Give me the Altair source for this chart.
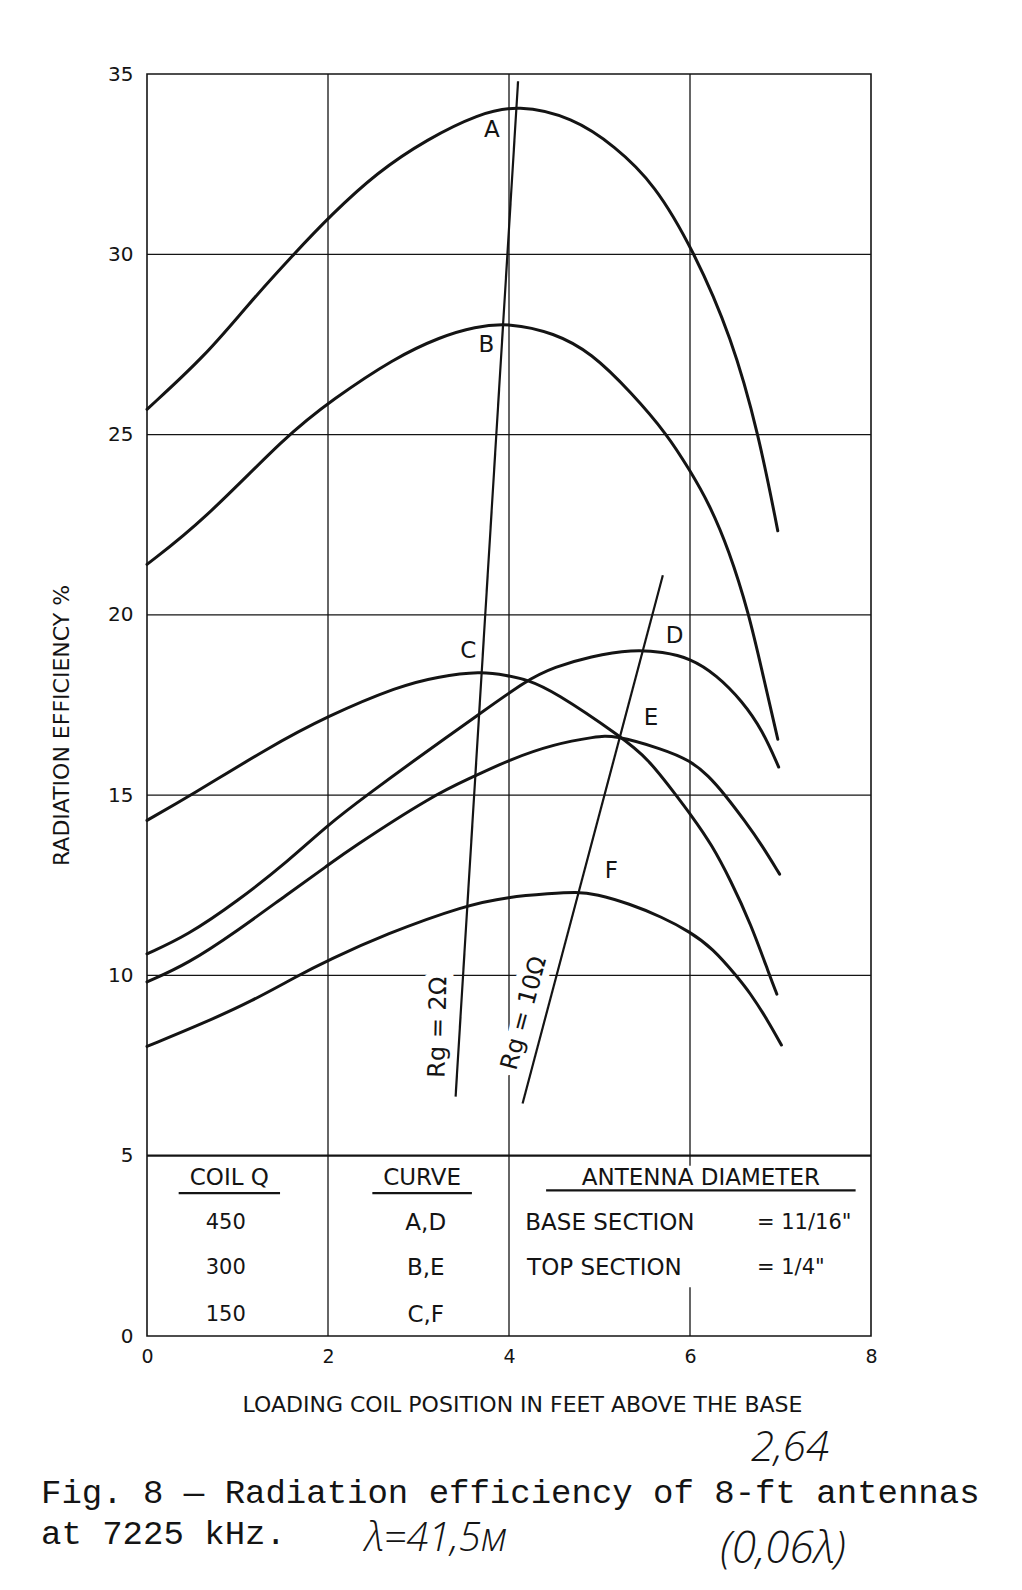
import altair as alt
import pandas as pd

# ---------------- values ----------------
# curve points: loading-coil position (ft) vs radiation efficiency (%)
A_x = [0, 0.655, 1.11, 1.62, 2.03, 2.54, 3.1, 3.66, 4.1, 4.7, 5.17, 5.61, 6.04, 6.46, 6.76, 6.97]
A_y = [25.7, 27.21, 28.59, 30.0, 31.08, 32.27, 33.2, 33.89, 34.15, 33.8, 33.0, 31.95, 30.1, 27.7, 25.0, 22.33]
B_x = [0, 0.62, 1.55, 2.05, 2.73, 3.25, 3.62, 4.0, 4.5, 4.91, 5.35, 5.75, 6.0, 6.21, 6.43, 6.65, 6.8, 6.97]
B_y = [21.4, 22.6, 25.0, 25.97, 27.12, 27.72, 27.99, 28.1, 27.82, 27.27, 26.17, 25.0, 24.0, 23.09, 21.8, 20.04, 18.4, 16.55]
C_x = [0, 0.49, 1.33, 1.99, 2.79, 3.2, 3.69, 3.98, 4.2, 4.49, 5.25, 5.54, 5.83, 6.02, 6.24, 6.45, 6.67, 6.88, 6.96]
C_y = [14.3, 15.0, 16.3, 17.19, 18.03, 18.28, 18.44, 18.32, 18.2, 17.89, 16.6, 16.0, 15.05, 14.42, 13.63, 12.63, 11.44, 10.0, 9.48]
D_x = [0, 0.44, 1.0, 1.56, 2.01, 2.43, 3.0, 3.64, 4.2, 4.5, 4.9, 5.37, 5.7, 6.0, 6.29, 6.58, 6.8, 6.98]
D_y = [10.6, 11.1, 12.06, 13.17, 14.2, 15.0, 16.05, 17.19, 18.2, 18.55, 18.85, 19.04, 18.97, 18.8, 18.34, 17.6, 16.8, 15.78]
E_x = [0, 0.45, 1.0, 1.55, 2.01, 2.21, 3.16, 3.6, 4.0, 4.5, 4.96, 5.15, 5.7, 6.0, 6.2, 6.39, 6.61, 6.79, 6.99]
E_y = [9.82, 10.32, 11.24, 12.25, 13.07, 13.45, 15.0, 15.5, 15.98, 16.42, 16.62, 16.67, 16.28, 15.96, 15.55, 15.0, 14.27, 13.63, 12.81]
F_x = [0, 0.62, 1.17, 1.65, 2.01, 2.63, 3.52, 4.0, 4.45, 4.75, 4.96, 5.33, 5.69, 6.0, 6.25, 6.51, 6.66, 6.86, 7.01]
F_y = [8.03, 8.67, 9.3, 9.97, 10.43, 11.14, 11.95, 12.18, 12.27, 12.32, 12.26, 11.99, 11.62, 11.21, 10.75, 10.0, 9.53, 8.75, 8.07]

# ground-resistance lines (straight)
rg2_x = [3.41, 4.1]
rg2_y = [6.64, 34.8]
rg10_x = [4.15, 5.7]
rg10_y = [6.45, 21.1]

# curve letters
label_text = ["A", "B", "C", "D", "E", "F"]
label_x = [3.81, 3.75, 3.55, 5.83, 5.57, 5.13]
label_y = [33.45, 27.49, 19.0, 19.4, 17.15, 12.9]

# Rg labels
rg_label = ["Rg = 2Ω", "Rg = 10Ω"]
rg_label_x = [3.22, 4.17]
rg_label_y = [8.56, 8.95]

# grid
hgrid_vals = [10, 15, 20, 25, 30]
table_line = [5]
vgrid_x = [2, 4, 6, 6]
vgrid_y0 = [0, 0, 4.72, 0]
vgrid_y1 = [35, 35, 35, 1.35]

# in-plot table
head_text = ["COIL Q", "CURVE", "ANTENNA DIAMETER"]
head_x = [0.91, 3.04, 6.12]
head_y = [4.38, 4.38, 4.38]
uline_x0 = [0.35, 2.49, 4.41]
uline_x1 = [1.47, 3.59, 7.83]
uline_y = [3.96, 3.96, 4.04]
coil_q = ["450", "300", "150"]
curve_pairs = ["A,D", "B,E", "C,F"]
row_y = [3.13, 1.88, 0.58]
coil_x = [0.87, 0.87, 0.87]
pair_x = [3.08, 3.08, 3.08]
section_text = ["BASE SECTION", "TOP SECTION"]
section_val = ["= 11/16\"", "= 1/4\""]
section_x = [4.18, 4.2]
section_val_x = [6.74, 6.74]
section_y = [3.13, 1.88]

x_ticks = [0, 2, 4, 6, 8]
y_ticks = [0, 5, 10, 15, 20, 25, 30, 35]

caption1 = "Fig. 8 — Radiation efficiency of 8-ft antennas"
caption2 = "at 7225 kHz."
hand1 = "2,64"
hand2 = "λ=41,5м"
hand3 = "(0,06λ)"

# ---------------- chart ----------------
W, H = 724, 1262
INK = "#141414"
SANS = "DejaVu Sans"
XS = alt.Scale(domain=[0, 8], nice=False, zero=False)
YS = alt.Scale(domain=[0, 35], nice=False, zero=False)

rows = []
for name, xs, ys in [("A", A_x, A_y), ("B", B_x, B_y), ("C", C_x, C_y),
                     ("D", D_x, D_y), ("E", E_x, E_y), ("F", F_x, F_y)]:
    for xv, yv in zip(xs, ys):
        rows.append({"curve": name, "x": xv, "y": yv})
curves_df = pd.DataFrame(rows)

rg_rows = []
for name, xs, ys in [("2", rg2_x, rg2_y), ("10", rg10_x, rg10_y)]:
    for xv, yv in zip(xs, ys):
        rg_rows.append({"rg": name, "x": xv, "y": yv})
rg_df = pd.DataFrame(rg_rows)

XT = "LOADING COIL POSITION IN FEET ABOVE THE BASE"
YT = "RADIATION EFFICIENCY %"

x_axis = alt.Axis(values=x_ticks, format="d", grid=False, ticks=False, domain=False,
                  labelFontSize=19, labelPadding=11, labelFlush=False, labelOverlap=False,
                  labelFont=SANS, labelColor=INK,
                  title=XT,
                  titleFont=SANS, titleFontSize=22, titleFontWeight="normal", titleColor=INK,
                  titleX=375, titleY=68, titleAlign="center", titleBaseline="middle")
y_axis = alt.Axis(values=y_ticks, format="d", grid=False, ticks=False, domain=False,
                  labelFontSize=20, labelPadding=14, labelFlush=False, labelOverlap=False,
                  labelFont=SANS, labelColor=INK,
                  title=YT,
                  titleFont=SANS, titleFontSize=22, titleFontWeight="normal", titleColor=INK,
                  titleAngle=270, titleX=-86, titleY=651, titleAlign="center",
                  titleBaseline="middle")


def X(field):
    return alt.X(field, scale=XS, axis=x_axis, title=XT)


def Y(field):
    return alt.Y(field, scale=YS, axis=y_axis, title=YT)


hgrid = alt.Chart(pd.DataFrame({"y": hgrid_vals, "x0": [0] * len(hgrid_vals),
                                "x1": [8] * len(hgrid_vals)})).mark_rule(
    color=INK, strokeWidth=1.3).encode(x=X("x0:Q"), x2="x1:Q", y=Y("y:Q"))

tline = alt.Chart(pd.DataFrame({"y": table_line, "x0": [0], "x1": [8]})).mark_rule(
    color=INK, strokeWidth=2.2).encode(x=X("x0:Q"), x2="x1:Q", y=Y("y:Q"))

vgrid = alt.Chart(pd.DataFrame({"x": vgrid_x, "y0": vgrid_y0, "y1": vgrid_y1})).mark_rule(
    color=INK, strokeWidth=1.3).encode(x=X("x:Q"), y=Y("y0:Q"), y2="y1:Q")

lab_df = pd.DataFrame({"t": rg_label, "x": rg_label_x, "y": rg_label_y})


def rg_text(i, angle, halo):
    props = dict(font=SANS, fontSize=24, angle=angle, align="center", baseline="middle")
    if halo:
        props.update(color="white", stroke="white", strokeWidth=14)
    else:
        props.update(color=INK)
    return alt.Chart(lab_df.iloc[[i]]).mark_text(**props).encode(
        x=X("x:Q"), y=Y("y:Q"), text="t:N")


halo2 = rg_text(0, 271, True)
halo10 = rg_text(1, 285, True)
txt2 = rg_text(0, 271, False)
txt10 = rg_text(1, 285, False)

rg_lines = alt.Chart(rg_df).mark_line(color=INK, strokeWidth=2.2).encode(
    x=X("x:Q"), y=Y("y:Q"), detail="rg:N")

curves = alt.Chart(curves_df).mark_line(
    color=INK, strokeWidth=3, interpolate="basis", strokeCap="round").encode(
    x=X("x:Q"), y=Y("y:Q"), detail="curve:N")


def table_text(texts, xs, ys, size, align="center"):
    return alt.Chart(pd.DataFrame({"t": texts, "x": xs, "y": ys})).mark_text(
        font=SANS, fontSize=size, color=INK, align=align, baseline="middle").encode(
        x=X("x:Q"), y=Y("y:Q"), text="t:N")


letters = table_text(label_text, label_x, label_y, 23)
heads = table_text(head_text, head_x, head_y, 23)
coil_txt = table_text(coil_q, coil_x, row_y, 21)
pair_txt = table_text(curve_pairs, pair_x, row_y, 23)
sec_txt = table_text(section_text, section_x, section_y, 23, "left")
sec_val = table_text(section_val, section_val_x, section_y, 21, "left")

ulines = alt.Chart(pd.DataFrame({"x0": uline_x0, "x1": uline_x1, "y": uline_y})).mark_rule(
    color=INK, strokeWidth=2.2).encode(x=X("x0:Q"), x2="x1:Q", y=Y("y:Q"))


def free_text(s, px, py, **kw):
    return alt.Chart(pd.DataFrame({"t": [s]})).mark_text(color=INK, **kw).encode(
        x=alt.value(px), y=alt.value(py), text="t:N")


cap1 = free_text(caption1, -106, 1429, font="Liberation Mono", fontSize=34,
                 align="left", baseline="alphabetic")
cap2 = free_text(caption2, -106, 1470, font="Liberation Mono", fontSize=34,
                 align="left", baseline="alphabetic")
h1 = free_text(hand1, 643, 1374, font="Open Sans", fontSize=42, fontStyle="italic",
               fontWeight=300, align="center", baseline="middle")
h2 = free_text(hand2, 289, 1465, font="Open Sans", fontSize=40, fontStyle="italic",
               fontWeight=300, align="center", baseline="middle")
h3 = free_text(hand3, 636, 1476, font="Open Sans", fontSize=44, fontStyle="italic",
               fontWeight=300, align="center", baseline="middle")

chart = alt.layer(
    hgrid, tline, vgrid, halo2, halo10, rg_lines, curves, letters, txt2, txt10,
    heads, ulines, coil_txt, pair_txt, sec_txt, sec_val, cap1, cap2, h1, h2, h3
).properties(
    width=W, height=H,
    autosize=alt.AutoSizeParams(type="none"),
    padding={"left": 139, "top": 66, "right": 135, "bottom": 244},
    background="white",
).configure_view(stroke=INK, strokeWidth=1.6)

chart.save("out.html", embed_options={"renderer": "svg", "actions": False})
